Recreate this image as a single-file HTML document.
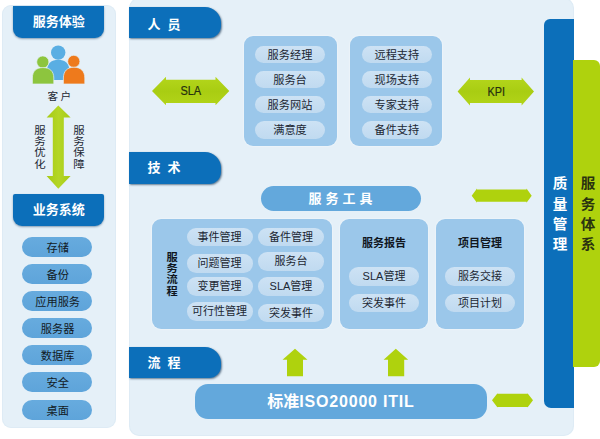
<!DOCTYPE html>
<html lang="zh-CN">
<head>
<meta charset="utf-8">
<title>服务体系</title>
<style>
html,body{margin:0;padding:0;background:#fff;}
body{width:600px;height:439px;position:relative;overflow:hidden;font-family:"Liberation Sans","Noto Sans CJK SC",sans-serif;color:#1c2733;}
.a{position:absolute;box-sizing:border-box;}
.panel{background:#e5f0f8;box-shadow:inset 0 0 0 1px rgba(205,225,240,.3);}
.hdr{background:#0c6fba;color:#fff;font-weight:bold;font-size:13px;text-align:center;line-height:32px;box-shadow:0 1px 2px rgba(20,60,100,.45);}
.tab{background:#0c6fba;color:#fff;font-weight:bold;font-size:13px;line-height:32.8px;height:31.5px;left:128.5px;width:92px;padding-left:19px;letter-spacing:7px;border-radius:0 16px 12px 0;box-shadow:1px 1px 2px rgba(20,50,80,.6);}
.lp{background:linear-gradient(#67abde,#5ea4da);border-radius:10px;font-size:11.2px;text-align:center;line-height:23.6px;left:22.3px;width:69.7px;height:20px;color:#121a24;padding-left:1px;}
.box{background:#9bc7ea;border-radius:9px;box-shadow:0 0 2px rgba(255,255,255,.9);}
.p{background:linear-gradient(#cde2f4,#c0daf0);border-radius:10px;font-size:11.2px;text-align:center;line-height:18.6px;height:17.8px;color:#1c2733;}
.q{background:linear-gradient(#cde2f4,#c0daf0);border-radius:9.2px;font-size:11px;text-align:center;line-height:18.8px;height:18.4px;color:#1c2733;}
.bar{background:#63a8dc;color:#fff;font-weight:bold;text-align:center;}
.vt{font-size:11px;line-height:11.9px;width:12px;text-align:center;word-break:break-all;color:#1c2733;transform:scale(1.04,.95);transform-origin:50% 0;}
.bt{font-size:11px;font-weight:bold;text-align:center;color:#10161e;}
svg{position:absolute;left:0;top:0;}
</style>
</head>
<body>
<!-- left panel -->
<div class="a panel" style="left:1.5px;top:5px;width:114.5px;height:423px;border-radius:9px;"></div>
<div class="a hdr" style="left:13.3px;top:6.4px;width:90.7px;height:31.5px;border-radius:0 0 9px 9px;">服务体验</div>
<div class="a" style="left:29.6px;top:89.3px;width:62px;text-align:center;font-size:10.6px;line-height:14px;letter-spacing:2.4px;">客户</div>
<div class="a vt" style="left:33.6px;top:125px;">服务优化</div>
<div class="a vt" style="left:72.5px;top:125px;">服务保障</div>
<div class="a hdr" style="left:13.3px;top:194.1px;width:90.7px;height:32px;border-radius:2px 2px 9px 9px;line-height:32px;">业务系统</div>
<div class="a lp" style="top:237px;">存储</div>
<div class="a lp" style="top:264px;">备份</div>
<div class="a lp" style="top:291px;">应用服务</div>
<div class="a lp" style="top:318px;">服务器</div>
<div class="a lp" style="top:344.5px;">数据库</div>
<div class="a lp" style="top:371.5px;">安全</div>
<div class="a lp" style="top:399.5px;">桌面</div>

<!-- main panel -->
<div class="a panel" style="left:129px;top:-2px;width:444.5px;height:438px;border-radius:10px;"></div>
<div class="a tab" style="top:6.5px;padding-top:2.6px;">人员</div>
<div class="a tab" style="top:152px;">技术</div>
<div class="a tab" style="top:346.5px;">流程</div>

<!-- people boxes -->
<div class="a box" style="left:244.1px;top:35.8px;width:92.8px;height:110.3px;"></div>
<div class="a p" style="left:255px;top:45.7px;width:70px;">服务经理</div>
<div class="a p" style="left:255px;top:70.6px;width:70px;">服务台</div>
<div class="a p" style="left:255px;top:95.6px;width:70px;">服务网站</div>
<div class="a p" style="left:255px;top:121px;width:70px;">满意度</div>
<div class="a box" style="left:349.5px;top:35.8px;width:92.3px;height:110.3px;"></div>
<div class="a p" style="left:362px;top:45.7px;width:69.7px;">远程支持</div>
<div class="a p" style="left:362px;top:70.6px;width:69.7px;">现场支持</div>
<div class="a p" style="left:362px;top:95.6px;width:69.7px;">专家支持</div>
<div class="a p" style="left:362px;top:121px;width:69.7px;">备件支持</div>

<!-- tools bar -->
<div class="a bar" style="left:260.5px;top:185.5px;width:160px;height:25px;border-radius:12.5px;font-size:13px;line-height:25px;letter-spacing:4px;text-indent:4px;">服务工具</div>

<!-- process box -->
<div class="a box" style="left:151.5px;top:219.3px;width:180.5px;height:109.6px;"></div>
<div class="a vt bt" style="left:166.4px;top:252.2px;font-size:10.8px;line-height:11.9px;">服务流程</div>
<div class="a q" style="left:186.5px;top:227.8px;width:66px;">事件管理</div>
<div class="a q" style="left:186.5px;top:254.4px;width:66px;">问题管理</div>
<div class="a q" style="left:186.5px;top:277.2px;width:66px;">变更管理</div>
<div class="a q" style="left:186.5px;top:302.2px;width:66px;">可行性管理</div>
<div class="a q" style="left:258.2px;top:227.8px;width:65.6px;">备件管理</div>
<div class="a q" style="left:258.2px;top:252.3px;width:65.6px;">服务台</div>
<div class="a q" style="left:258.2px;top:277.4px;width:65.6px;">SLA管理</div>
<div class="a q" style="left:258.2px;top:303.6px;width:65.6px;">突发事件</div>

<!-- report box -->
<div class="a box" style="left:339.7px;top:219.3px;width:88.7px;height:109.6px;"></div>
<div class="a bt" style="left:339.7px;top:236.3px;width:88.7px;line-height:14px;">服务报告</div>
<div class="a q" style="left:349px;top:267.2px;width:70px;">SLA管理</div>
<div class="a q" style="left:349px;top:293.8px;width:70px;">突发事件</div>

<!-- project box -->
<div class="a box" style="left:436px;top:219.3px;width:88px;height:109.6px;"></div>
<div class="a bt" style="left:436px;top:236.3px;width:88px;line-height:14px;">项目管理</div>
<div class="a q" style="left:445px;top:267.2px;width:69.8px;">服务交接</div>
<div class="a q" style="left:445px;top:293.8px;width:69.8px;">项目计划</div>

<!-- bottom bar -->
<div class="a bar" style="left:195px;top:383.8px;width:292px;height:35.2px;border-radius:13px;font-size:16px;line-height:36px;"><span style="letter-spacing:0">标准</span><span style="letter-spacing:.8px">ISO20000 ITIL</span></div>

<!-- right bars -->
<div class="a" style="left:544.3px;top:19px;width:29.5px;height:389px;background:#0c6fba;border-radius:6px 0 0 7px;"></div>
<div class="a" style="left:573.4px;top:60.4px;width:26.6px;height:306.6px;background:#afd20d;border-radius:0 6px 6px 0;"></div>
<div class="a" style="left:551.6px;top:173.3px;width:16px;font-size:14px;line-height:20.2px;color:#fff;font-weight:bold;text-align:center;word-break:break-all;transform:scaleX(1.04);">质量管理</div>
<div class="a" style="left:580px;top:173.3px;width:16px;font-size:14px;line-height:20.2px;color:#2a3310;font-weight:bold;text-align:center;word-break:break-all;transform:scaleX(1.04);">服务体系</div>

<svg width="600" height="439" viewBox="0 0 600 439">
  <defs>
    <linearGradient id="gh" x1="0" y1="0" x2="0" y2="1"><stop offset="0" stop-color="#b4d61c"/><stop offset=".5" stop-color="#a9cd12"/><stop offset="1" stop-color="#b2d418"/></linearGradient>
    <linearGradient id="gv" x1="0" y1="0" x2="1" y2="0"><stop offset="0" stop-color="#a6cb14"/><stop offset=".5" stop-color="#b4d626"/><stop offset="1" stop-color="#a6cb14"/></linearGradient>
  </defs>
  <!-- people icon -->
  <g>
    <circle cx="58.2" cy="52.6" r="7.2" fill="#5aaee3"/>
    <path d="M47 80 V71 C47 63.5 51.5 59.8 58.2 59.8 C65 59.8 69.4 63.5 69.4 71 V80 Z" fill="#5aaee3"/>
    <circle cx="42.8" cy="62" r="6.1" fill="#8dc53e" stroke="#e4f0f8" stroke-width=".7"/>
    <path d="M32.4 84 V78 C32.4 71 36.5 67.6 43 67.6 C49.5 67.6 53.8 71 53.8 78 V84 Z" fill="#8dc53e" stroke="#e4f0f8" stroke-width=".7"/>
    <circle cx="73.8" cy="61.4" r="6.1" fill="#ee7a1c" stroke="#e4f0f8" stroke-width=".7"/>
    <path d="M63.4 84 V78 C63.4 71 67.5 67.2 74 67.2 C80.5 67.2 84.8 71 84.8 78 V84 Z" fill="#ee7a1c" stroke="#e4f0f8" stroke-width=".7"/>
  </g>
  <!-- vertical double arrow -->
  <path d="M58.3 105.4 L70.6 117.6 H63.8 V176 H70.6 L58.3 188.8 L46.6 176 H52.8 V117.6 H46.6 Z" fill="url(#gv)"/>
  <!-- SLA arrow -->
  <path d="M152 91 L166 76.8 V79.8 H215.5 V76.8 L229.3 91 L215.5 105.3 V102.9 H166 V105.3 Z" fill="url(#gh)"/>
  <!-- KPI arrow -->
  <path d="M457.6 91.5 L470 77.6 V80 H521.6 V77.6 L534 91.5 L521.6 105.6 V103 H470 V105.6 Z" fill="url(#gh)"/>
  <!-- blank arrow 2 -->
  <path d="M471.7 195.7 L477 188.6 V189.6 H526.5 V188.6 L531.7 195.7 L526.5 202.8 V201.8 H477 V202.8 Z" fill="#afd20d"/>
  <!-- blank arrow 3 -->
  <path d="M492 400.3 L497.5 393.2 V393.7 H527.5 V393.2 L533 400.3 L527.5 407.5 V407 H497.5 V407.5 Z" fill="#afd20d"/>
  <!-- up arrows -->
  <path d="M295 348.7 L307.5 359.7 H303 V376.3 H287 V359.7 H282.5 Z" fill="#afd20d"/>
  <path d="M395.8 348.7 L408.2 359.7 H404.2 V376.3 H388 V359.7 H383.6 Z" fill="#afd20d"/>
  <text x="180.4" y="95.3" font-size="12" textLength="20.8" lengthAdjust="spacingAndGlyphs" fill="#26300f" stroke="#26300f" stroke-width=".2" font-family="Liberation Sans, sans-serif">SLA</text>
  <text x="487.6" y="95.6" font-size="12" textLength="17.4" lengthAdjust="spacingAndGlyphs" fill="#26300f" stroke="#26300f" stroke-width=".2" font-family="Liberation Sans, sans-serif">KPI</text>
</svg>
</body>
</html>
